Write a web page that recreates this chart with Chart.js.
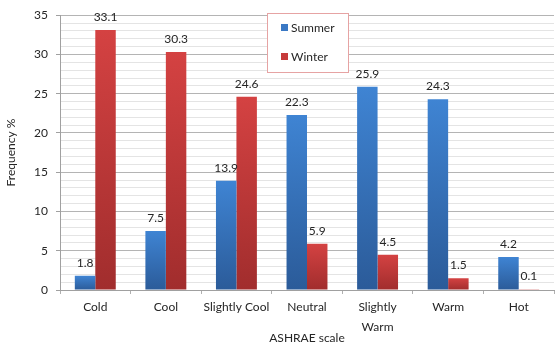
<!DOCTYPE html>
<html>
<head>
<meta charset="utf-8">
<script src="https://cdn.jsdelivr.net/npm/chart.js@4/dist/chart.umd.min.js"></script>
<style>
  html, body { margin: 0; padding: 0; background: #fff; }
  #wrap { width: 556px; height: 347px; }
</style>
</head>
<body>
<div id="wrap"><canvas id="c" width="556" height="347"></canvas></div>
<script>
// Thermal sensation votes on the ASHRAE scale
const categories = ['Cold', 'Cool', 'Slightly Cool', 'Neutral', ['Slightly', 'Warm'], 'Warm', 'Hot'];
const summer = [1.8, 7.5, 13.9, 22.3, 25.9, 24.3, 4.2];
const winter = [33.1, 30.3, 24.6, 5.9, 4.5, 1.5, 0.1];
const seriesNames = ['Summer', 'Winter'];
const yMax = 35;
const majorStep = 5;

const FONT = 'Lato, "Open Sans", sans-serif';
const TEXT = '#262626';

// per-bar vertical gradient, lighter at the top
function barGradient(top, bottom) {
  return function (ctx) {
    const chart = ctx.chart;
    if (!chart.chartArea || ctx.type !== 'data') return top;
    const ys = chart.scales.y;
    const y0 = ys.getPixelForValue(ctx.raw);
    const y1 = ys.getPixelForValue(0);
    if (!(y1 - y0 > 0.5)) return top;
    const g = chart.ctx.createLinearGradient(0, y0, 0, y1);
    g.addColorStop(0, top);
    g.addColorStop(1, bottom);
    return g;
  };
}

const seriesColors = [
  { top: '#3f84d3', bottom: '#2b5b99', swatch: '#3a78c4' },
  { top: '#d44242', bottom: '#a12d2d', swatch: '#c63a3a' }
];

// value printed above each bar
const valueLabels = {
  id: 'valueLabels',
  afterDatasetsDraw(chart) {
    const ctx = chart.ctx;
    ctx.save();
    ctx.font = '12px ' + FONT;
    ctx.fillStyle = TEXT;
    ctx.textAlign = 'center';
    ctx.textBaseline = 'bottom';
    chart.data.datasets.forEach((ds, i) => {
      chart.getDatasetMeta(i).data.forEach((bar, j) => {
        ctx.fillText(ds.data[j].toFixed(1), bar.x, bar.y - 7);
      });
    });
    ctx.restore();
  }
};

// boxed legend stacked vertically
const boxLegend = {
  id: 'boxLegend',
  afterDraw(chart) {
    const ctx = chart.ctx;
    const x = 267, y = 13, w = 81, h = 59;
    ctx.save();
    ctx.fillStyle = '#ffffff';
    ctx.fillRect(x, y, w, h);
    ctx.strokeStyle = '#e6a3a3';
    ctx.lineWidth = 1;
    ctx.strokeRect(x + 0.5, y + 0.5, w, h);
    ctx.font = '12px ' + FONT;
    ctx.textBaseline = 'middle';
    ctx.textAlign = 'left';
    chart.data.datasets.forEach((ds, i) => {
      const cy = y + 15 + i * 29;
      ctx.fillStyle = seriesColors[i].swatch;
      ctx.fillRect(x + 14, cy - 4, 7, 7);
      ctx.fillStyle = TEXT;
      ctx.fillText(ds.label, x + 24, cy);
    });
    ctx.restore();
  }
};

new Chart(document.getElementById('c'), {
  type: 'bar',
  data: {
    labels: categories,
    datasets: [
      { label: seriesNames[0], data: summer, backgroundColor: barGradient(seriesColors[0].top, seriesColors[0].bottom) },
      { label: seriesNames[1], data: winter, backgroundColor: barGradient(seriesColors[1].top, seriesColors[1].bottom) }
    ]
  },
  options: {
    responsive: false,
    animation: false,
    devicePixelRatio: 1,
    layout: { padding: { top: 15, right: 2, left: 0, bottom: 0 } },
    datasets: { bar: { categoryPercentage: 0.58, barPercentage: 1.0, borderWidth: 0 } },
    plugins: {
      legend: { display: false },
      tooltip: { enabled: false }
    },
    scales: {
      x: {
        afterFit(s) { s.height = 57; },
        grid: {
          drawOnChartArea: false,
          drawTicks: true,
          tickLength: 4,
          tickColor: '#b0b0b0'
        },
        border: { color: '#a0a0a0' },
        ticks: {
          font: { family: FONT, size: 12, lineHeight: 1.65 },
          color: TEXT,
          padding: 3,
          maxRotation: 0,
          autoSkip: false
        },
        title: {
          display: true,
          text: 'ASHRAE scale',
          font: { family: FONT, size: 12 },
          color: TEXT,
          padding: { top: 0, bottom: 2 }
        }
      },
      y: {
        min: 0,
        max: yMax,
        afterFit(s) { s.width = 60; },
        ticks: {
          stepSize: 1,
          autoSkip: false,
          font: { family: FONT, size: 12 },
          color: TEXT,
          padding: 8,
          callback: (v) => (v % majorStep === 0 ? String(v) : '')
        },
        grid: {
          color: (c) => (c.tick && c.tick.value % majorStep === 0 ? '#b4b4b4' : '#e4e4e4'),
          tickColor: (c) => (c.tick && c.tick.value % majorStep === 0 ? '#a0a0a0' : 'rgba(0,0,0,0)'),
          tickLength: 4
        },
        border: { color: '#a0a0a0' },
        title: {
          display: true,
          text: 'Frequency %',
          font: { family: FONT, size: 12 },
          color: TEXT,
          padding: { top: 4, bottom: 0 }
        }
      }
    }
  },
  plugins: [valueLabels, boxLegend]
});
</script>
</body>
</html>
